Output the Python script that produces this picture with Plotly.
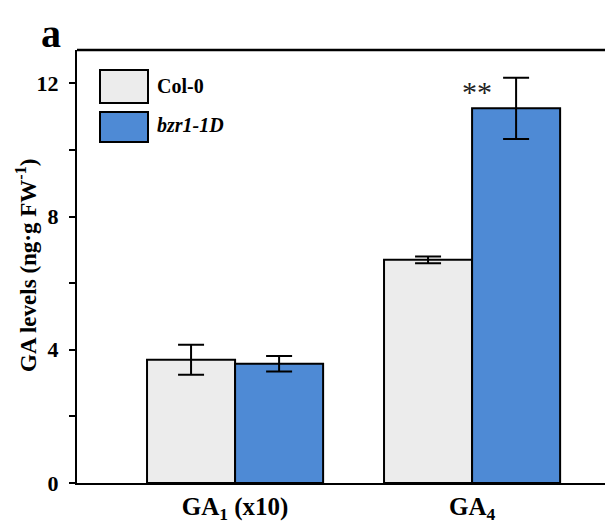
import plotly.graph_objects as go

categories = ["GA<sub>1</sub> (x10)", "GA<sub>4</sub>"]
col0_values = [3.7, 6.7]
col0_errors = [0.45, 0.1]
bzr_values = [3.58, 11.25]
bzr_errors = [0.23, 0.92]
series_names = ["Col-0", "<i>bzr1-1D</i>"]
y_ticks = [0, 4, 8, 12]

FONT = "Liberation Serif"
OFF = 8  # page body margin
W, H = 613, 529
L, T, B, R = 69, 42, 54, 0
pw, ph = W - L - R, H - T - B

def px(x):
    return (x - OFF - L) / pw

def py(y):
    return (H - B - (y - OFF)) / ph

fig = go.Figure()
fig.add_trace(go.Bar(
    x=[0, 1], y=col0_values, name="Col-0",
    marker=dict(color="#ececec", line=dict(color="black", width=2)),
    error_y=dict(type="data", array=col0_errors, color="black", thickness=2, width=13),
    showlegend=False,
))
fig.add_trace(go.Bar(
    x=[0, 1], y=bzr_values, name="bzr1-1D",
    marker=dict(color="#4e8ad5", line=dict(color="black", width=2)),
    error_y=dict(type="data", array=bzr_errors, color="black", thickness=2, width=13),
    showlegend=False,
))

shapes = [
    dict(type="line", xref="paper", yref="paper", x0=0, x1=1, y0=1, y1=1,
         line=dict(color="black", width=2.5)),
    dict(type="rect", xref="paper", yref="paper", x0=px(100), x1=px(148), y0=py(103), y1=py(70),
         fillcolor="#ececec", line=dict(color="black", width=2)),
    dict(type="rect", xref="paper", yref="paper", x0=px(100), x1=px(148), y0=py(142), y1=py(112),
         fillcolor="#4e8ad5", line=dict(color="black", width=2)),
]

annotations = [
    dict(text="<b>" + series_names[0] + "</b>", xref="paper", yref="paper", x=px(155), y=py(86),
         xanchor="left", yanchor="middle", showarrow=False, font=dict(family=FONT, size=20, color="black")),
    dict(text="<b>" + series_names[1] + "</b>", xref="paper", yref="paper", x=px(155), y=py(125),
         xanchor="left", yanchor="middle", showarrow=False, font=dict(family=FONT, size=20, color="black")),
    dict(text="**", xref="paper", yref="paper", x=px(477), y=py(92), xanchor="center", yanchor="middle",
         showarrow=False, font=dict(family=FONT, size=30, color="#222222")),
    dict(text="<b>a</b>", xref="paper", yref="paper", x=px(51), y=py(OFF + 1), xanchor="center", yanchor="top",
         showarrow=False, font=dict(family=FONT, size=40, color="black")),
    dict(text="<b>GA levels (ng·g FW<sup>-1</sup>)</b>", xref="paper", yref="paper", x=px(26), y=py(266),
         xanchor="center", yanchor="middle", textangle=-90, showarrow=False,
         font=dict(family=FONT, size=23, color="black")),
]

fig.update_layout(
    width=W, height=H,
    margin=dict(l=L, r=R, t=T, b=B, pad=0),
    paper_bgcolor="white", plot_bgcolor="white",
    barmode="group", bargap=0.257, bargroupgap=0,
    shapes=shapes, annotations=annotations,
    font=dict(family=FONT, color="black"),
)
fig.update_xaxes(
    range=[-0.667, -0.667 + pw / 237.0], tickvals=[0, 1], ticktext=["<b>" + c + "</b>" for c in categories],
    showline=True, linecolor="black", linewidth=2, ticks="", showgrid=False, zeroline=False,
    tickfont=dict(family=FONT, size=25, color="black"), ticklabelstandoff=0,
)
fig.update_yaxes(
    range=[0, 13], tickvals=y_ticks, ticktext=["<b>%d</b>" % v for v in y_ticks],
    showline=True, linecolor="black", linewidth=2, ticks="outside", ticklen=6, tickwidth=2,
    tickcolor="black", showgrid=False, zeroline=False,
    minor=dict(tickvals=[2, 6, 10], ticks="outside", ticklen=6, tickwidth=2, tickcolor="black"),
    tickfont=dict(family=FONT, size=22, color="black"), ticklabelstandoff=6,
)

fig.write_html("out.html")
